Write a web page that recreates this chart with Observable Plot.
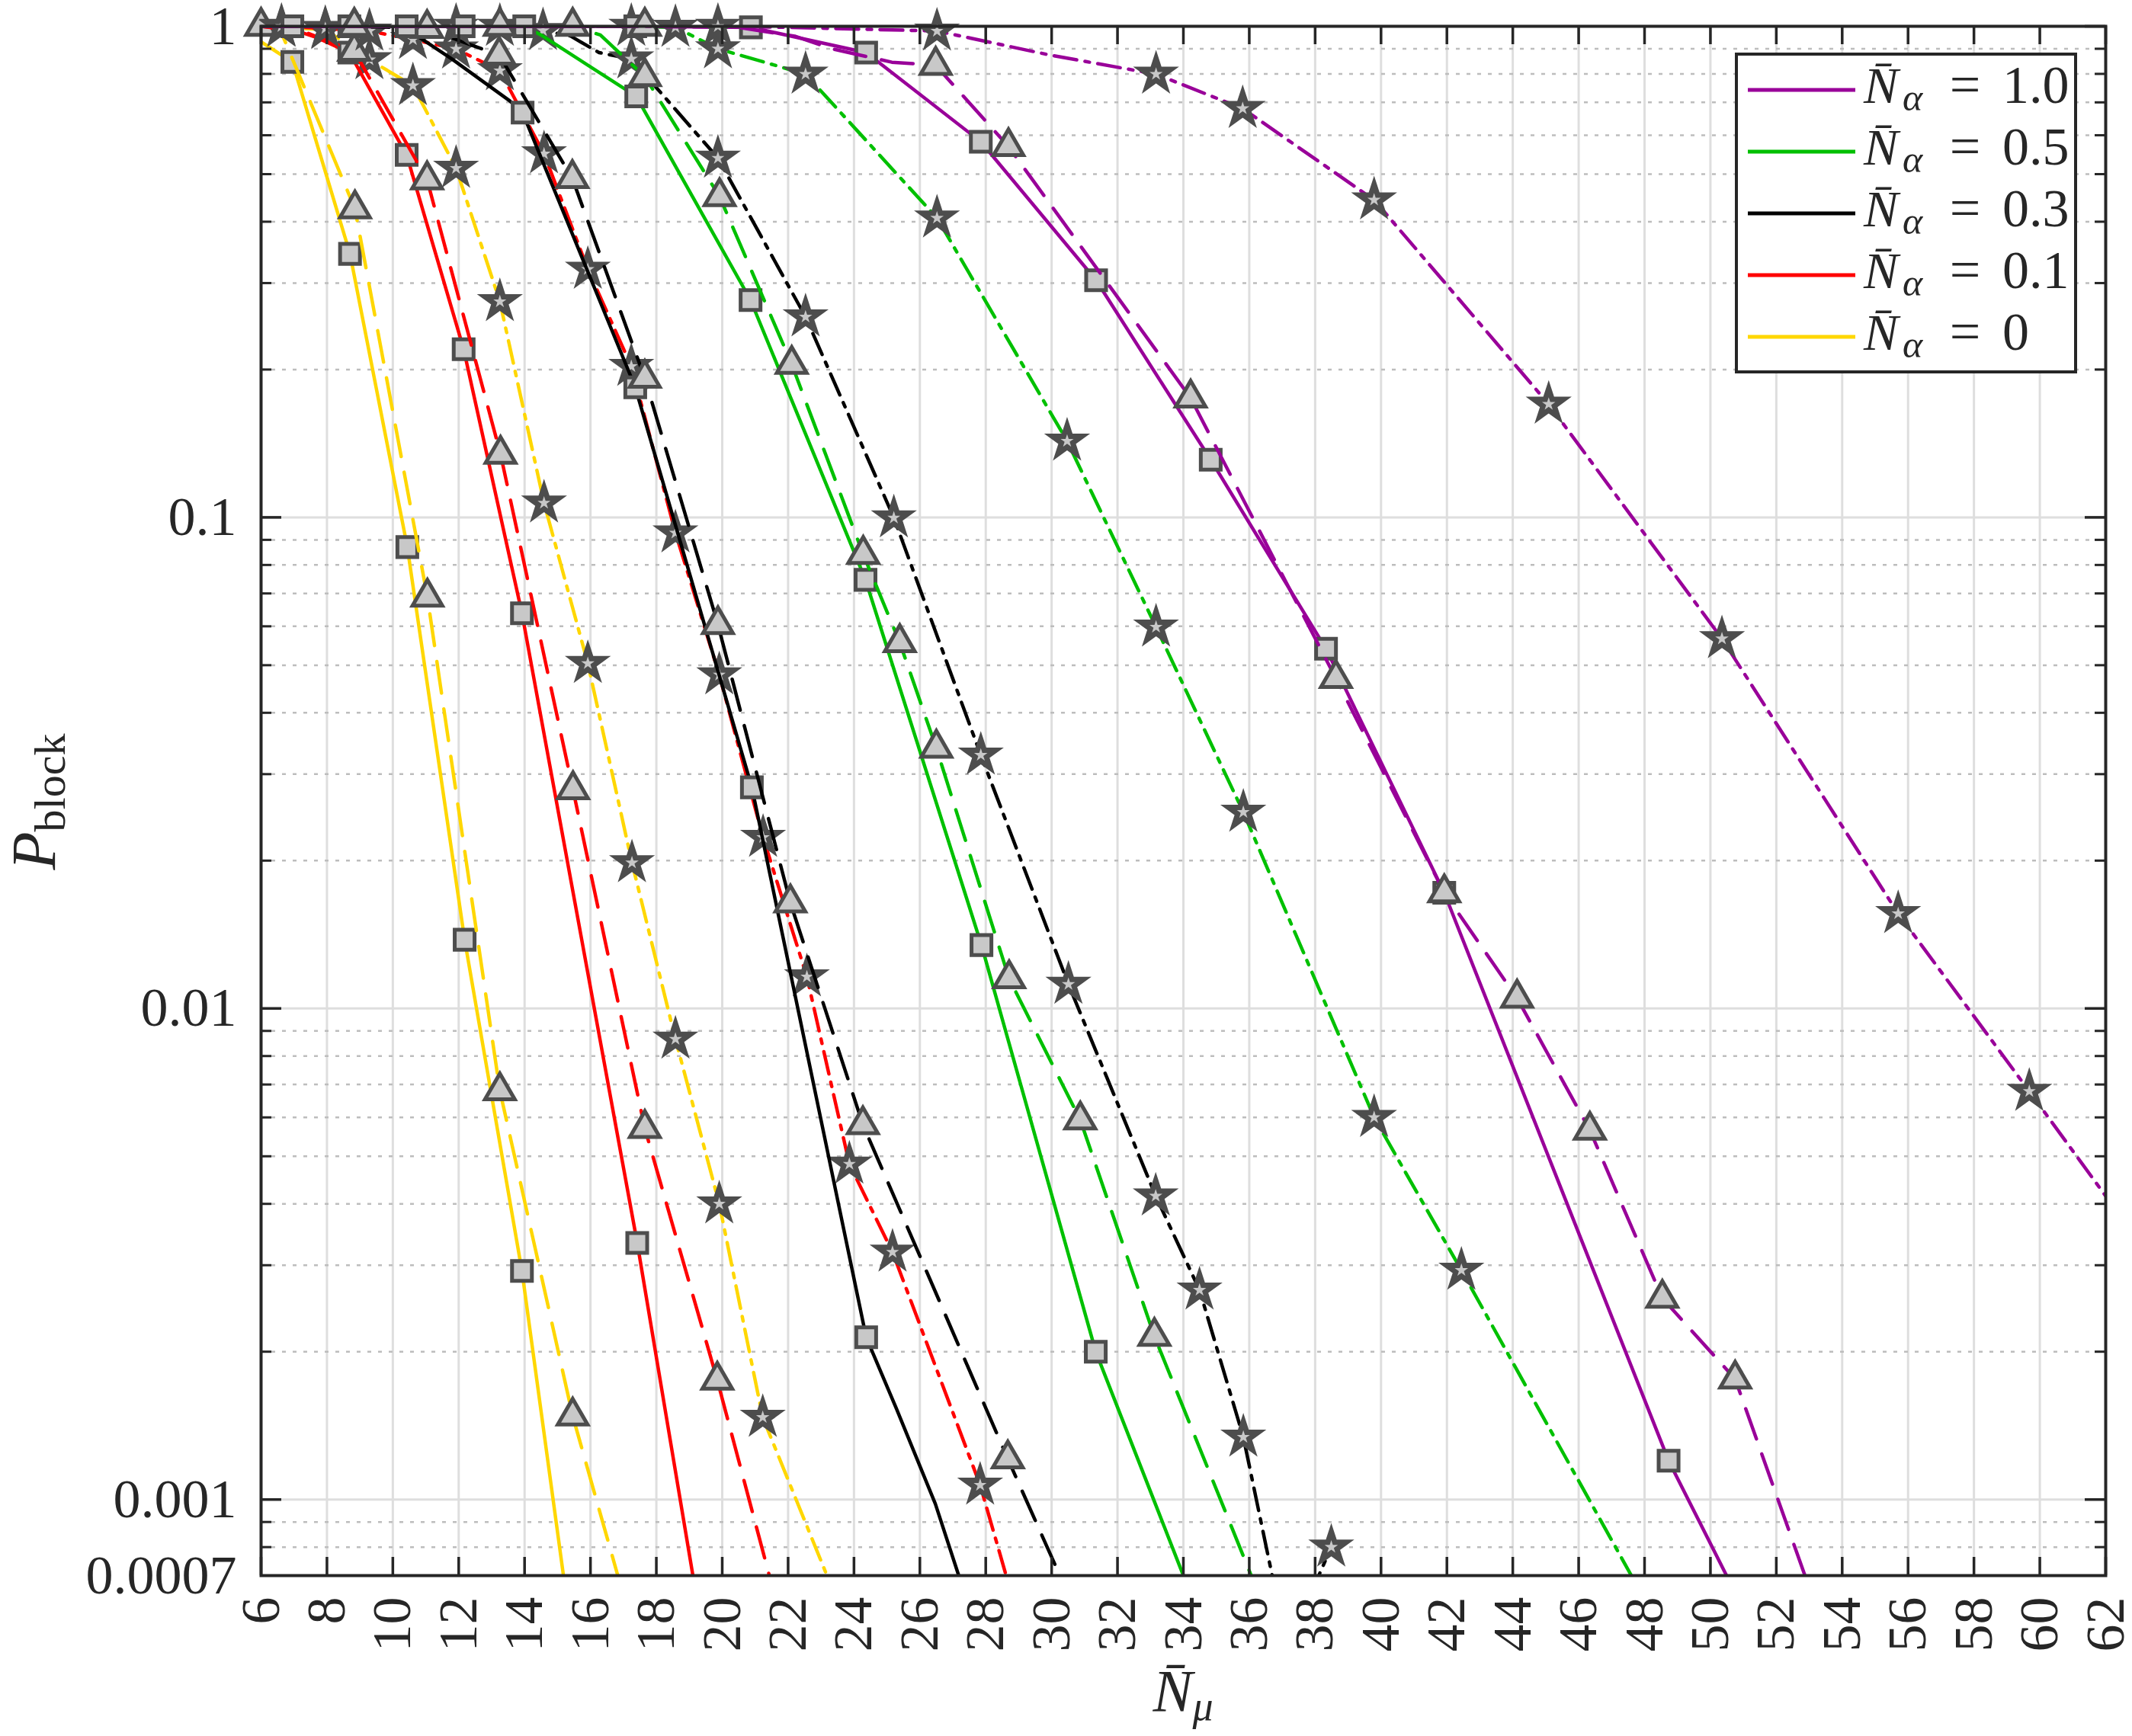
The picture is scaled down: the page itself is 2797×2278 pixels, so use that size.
<!DOCTYPE html>
<html><head><meta charset="utf-8">
<script src="https://cdn.jsdelivr.net/npm/d3@7"></script>
<script src="https://cdn.jsdelivr.net/npm/@observablehq/plot@0.6"></script>
<style>body{margin:0;background:#fff}</style>
</head><body><div id="chart"></div>
<script>
// ---------- data: [N_mu, P_block, marker shown (1) or not (0)] ----------
// N_alpha = 0 (yellow)
const a0Solid   = [[6,0.93,0],[6.95,0.846,1],[8.70,0.344,1],[10.44,0.087,1],[12.18,0.0138,1],[13.92,0.00292,1],[15.18,0.0007,0]];
const a0Dash    = [[6,1,1],[6.62,0.97,0],[8.85,0.425,1],[11.05,0.0688,1],[13.25,0.0068,1],[15.46,0.00148,1],[16.83,0.0007,0]];
const a0DashDot = [[6,1,0],[6.62,0.995,1],[7.95,0.985,1],[9.29,0.855,1],[10.61,0.757,1],[11.92,0.514,1],[13.25,0.275,1],[14.59,0.107,1],[15.92,0.0504,1],[17.26,0.0198,1],[18.58,0.00866,1],[19.91,0.004,1],[21.23,0.00147,1],[23.18,0.0007,0]];
// N_alpha = 0.1 (red)
const a01Solid   = [[6,1,0],[6.95,0.985,0],[7.7,0.948,0],[8.68,0.884,1],[10.42,0.547,1],[12.15,0.22,1],[13.92,0.0638,1],[17.42,0.00333,1],[19.11,0.0007,0]];
const a01Dash    = [[6,1,0],[7.3,0.975,0],[8.83,0.89,1],[11.04,0.487,1],[13.27,0.1345,1],[15.47,0.0279,1],[17.65,0.0057,1],[19.85,0.00175,1],[21.43,0.0007,0]];
const a01DashDot = [[6,1,0],[6.62,1,1],[7.95,0.99,1],[9.29,0.978,1],[10.61,0.94,1],[11.92,0.899,1],[13.25,0.812,1],[14.59,0.55,1],[15.92,0.32,1],[17.24,0.203,1],[18.58,0.093,1],[19.91,0.0478,1],[21.24,0.0223,1],[22.57,0.0116,1],[23.86,0.00482,1],[25.17,0.00319,1],[27.83,0.00107,1],[28.62,0.0007,0]];
// N_alpha = 0.3 (black)
const a03Solid   = [[6,1,0],[6.95,1,1],[8.68,1,1],[10.3,1,0],[10.8,0.95,0],[11.8,0.857,0],[13.55,0.705,0],[13.94,0.667,1],[17.36,0.184,1],[20.9,0.0282,1],[24.37,0.00214,1],[25.29,0.00153,0],[26.47,0.00098,0],[27.18,0.0007,0]];
const a03Dash    = [[6,1,0],[8.83,1,1],[11.04,0.99,1],[12.4,0.915,0],[13.23,0.874,1],[15.45,0.49,1],[17.65,0.192,1],[19.87,0.0605,1],[22.07,0.0164,1],[24.27,0.0058,1],[28.67,0.00121,1],[30.25,0.0007,0]];
const a03DashDot = [[6,1,0],[11.92,1,1],[13.25,1,1],[14.56,0.98,1],[15.4,0.955,0],[16.26,0.884,0],[17.24,0.858,1],[19.87,0.539,1],[22.53,0.256,1],[25.21,0.0998,1],[27.85,0.0328,1],[30.51,0.0112,1],[33.16,0.00415,1],[34.49,0.00267,1],[35.82,0.00134,1],[37.15,0.0005,0],[38.49,0.0008,1]];
// N_alpha = 0.5 (green)
const a05Solid   = [[6,1,0],[10.42,1,1],[12.15,1,1],[13.99,1,1],[14.5,0.96,0],[17.39,0.72,1],[20.86,0.277,1],[24.35,0.0746,1],[27.87,0.01346,1],[31.34,0.002,1],[34.0,0.0007,0]];
const a05Dash    = [[6,1,0],[13.25,1,1],[15.46,1,1],[16.3,0.96,0],[17.65,0.79,1],[19.92,0.45,1],[22.11,0.205,1],[24.28,0.0841,1],[25.39,0.0556,1],[26.5,0.0339,1],[28.71,0.0115,1],[30.87,0.00593,1],[33.12,0.00215,1],[36.06,0.0007,0]];
const a05DashDot = [[6,1,0],[15.92,1,0],[17.24,1,1],[18.58,0.995,1],[19.87,0.9,1],[21.47,0.838,0],[22.53,0.799,1],[26.52,0.407,1],[30.47,0.143,1],[33.17,0.0598,1],[35.82,0.0251,1],[39.79,0.006,1],[42.44,0.00293,1],[47.6,0.0007,0]];
// N_alpha = 1.0 (purple)
const a1Solid   = [[6,1,0],[17.36,1,1],[20.87,0.995,1],[24.37,0.884,1],[27.85,0.582,1],[31.35,0.304,1],[34.83,0.131,1],[38.33,0.054,1],[41.92,0.0172,1],[48.73,0.0012,1],[50.49,0.0007,0]];
const a1Dash    = [[6,1,0],[17.65,1,1],[20.5,0.995,0],[22.2,0.955,0],[23.33,0.9,0],[25.15,0.845,0],[26.48,0.833,1],[28.69,0.569,1],[34.22,0.175,1],[38.63,0.047,1],[41.92,0.0172,1],[44.13,0.0105,1],[46.34,0.00565,1],[48.54,0.00257,1],[50.75,0.00176,1],[52.87,0.0007,0]];
const a1DashDot = [[6,1,0],[19.87,1,1],[22.0,0.995,0],[26.52,0.978,1],[29.98,0.873,0],[33.17,0.799,1],[35.8,0.68,1],[39.79,0.443,1],[45.09,0.17,1],[50.35,0.0566,1],[55.7,0.0156,1],[59.68,0.00678,1],[62,0.00415,0]];

// legend labels (N_alpha values) and axis ticks
const legendValues = ["1.0", "0.5", "0.3", "0.1", "0"];
const xTicks  = [6,8,10,12,14,16,18,20,22,24,26,28,30,32,34,36,38,40,42,44,46,48,50,52,54,56,58,60,62];
const yLabels = [1, 0.1, 0.01, 0.001, 0.0007];
const yMajor  = [1, 0.1, 0.01, 0.001];
const yMinor  = [0.0008,0.0009,0.002,0.003,0.004,0.005,0.006,0.007,0.008,0.009,
                 0.02,0.03,0.04,0.05,0.06,0.07,0.08,0.09,0.2,0.3,0.4,0.5,0.6,0.7,0.8,0.9];

// ---------- styles ----------
const FONT = "'Liberation Serif', 'Times New Roman', serif";
const INK = "#262626";
const colorOf = {"1.0": "#990099", "0.5": "#00c000", "0.3": "#000000", "0.1": "#ff0000", "0": "#ffd700"};
const DASH = {solid: null, dash: "42,21", dashdot: "30,11,6,11"};
const SHAPE = {solid: "square", dash: "triangle", dashdot: "star"};
const R = {solid: 14.7, dash: 14.5, dashdot: 12.2};
const SW = {solid: 5, dash: 5, dashdot: 7};

const series = [
  ["0", "solid", a0Solid], ["0", "dash", a0Dash], ["0", "dashdot", a0DashDot],
  ["0.1", "solid", a01Solid], ["0.1", "dash", a01Dash], ["0.1", "dashdot", a01DashDot],
  ["0.3", "solid", a03Solid], ["0.3", "dash", a03Dash], ["0.3", "dashdot", a03DashDot],
  ["0.5", "solid", a05Solid], ["0.5", "dash", a05Dash], ["0.5", "dashdot", a05DashDot],
  ["1.0", "solid", a1Solid], ["1.0", "dash", a1Dash], ["1.0", "dashdot", a1DashDot]
];

const W = 2797, H = 2278, mL = 342, mR = 35, mT = 34, mB = 211;
const plotW = W - mL - mR, plotH = H - mT - mB;

const seriesMarks = series.flatMap(([a, st, data]) => [
  Plot.line(data, {x: d => d[0], y: d => d[1], stroke: colorOf[a], strokeWidth: 4.5,
    strokeDasharray: DASH[st], strokeLinejoin: "round", clip: true}),
  Plot.dot(data.filter(d => d[2] === 1), {x: d => d[0], y: d => d[1], symbol: SHAPE[st], r: R[st],
    fill: "#c8c8c8", stroke: "#4d4d4d", strokeWidth: SW[st]})
]);

const chart = Plot.plot({
  width: W, height: H,
  marginLeft: mL, marginRight: mR, marginTop: mT, marginBottom: mB,
  style: {fontFamily: FONT, fontSize: "72px", background: "#ffffff", color: INK},
  x: {domain: [6, 62], axis: null},
  y: {type: "log", domain: [0.0007, 1], axis: null},
  marks: [
    Plot.ruleX(xTicks, {stroke: "#dedede", strokeWidth: 3}),
    Plot.ruleY(yMinor, {stroke: "#bdbdbd", strokeWidth: 2.5, strokeDasharray: "5,9"}),
    Plot.ruleY(yMajor, {stroke: "#dedede", strokeWidth: 3}),
    ...seriesMarks,
    Plot.frame({stroke: INK, strokeWidth: 4}),
    // inward tick marks
    Plot.ruleX(xTicks, {stroke: INK, strokeWidth: 3.5, insetTop: plotH - 24}),
    Plot.ruleX(xTicks, {stroke: INK, strokeWidth: 3.5, insetBottom: plotH - 24}),
    Plot.ruleY(yMajor, {stroke: INK, strokeWidth: 3.5, insetRight: plotW - 27}),
    Plot.ruleY(yMajor, {stroke: INK, strokeWidth: 3.5, insetLeft: plotW - 27}),
    Plot.ruleY(yMinor, {stroke: INK, strokeWidth: 3, insetRight: plotW - 14}),
    Plot.ruleY(yMinor, {stroke: INK, strokeWidth: 3, insetLeft: plotW - 14}),
    // x tick labels, rotated
    Plot.text(xTicks, {x: d => d, text: d => String(d), frameAnchor: "bottom", dy: 28,
      rotate: -90, textAnchor: "end", lineAnchor: "middle", fontSize: 72, fill: INK}),
    // y tick labels (text mark so the 0.0007 edge label is kept)
    Plot.text(yLabels, {y: d => d, text: d => String(d), frameAnchor: "left", dx: -32,
      textAnchor: "end", lineAnchor: "middle", fontSize: 72, fill: INK})
  ]
});
document.getElementById("chart").appendChild(chart);

// ---------- labels & legend ----------
const svg = d3.select(chart);
const g = svg.append("g").attr("font-family", FONT).attr("fill", INK).attr("text-anchor", "start");

const yl = g.append("text").attr("transform", "translate(72,1052) rotate(-90)")
  .attr("text-anchor", "middle").attr("font-size", 82);
yl.append("tspan").attr("font-style", "italic").text("P");
yl.append("tspan").attr("font-size", 58).attr("dy", 13).text("block");

const xl = g.append("text").attr("x", 1552).attr("y", 2245).attr("text-anchor", "middle").attr("font-size", 78);
xl.append("tspan").attr("font-style", "italic").text("N\u0304");
xl.append("tspan").attr("font-style", "italic").attr("font-size", 54).attr("dy", 12).text("\u03bc");

const lg = g.append("g");
lg.append("rect").attr("x", 2278).attr("y", 71).attr("width", 445).attr("height", 417)
  .attr("fill", "#ffffff").attr("stroke", INK).attr("stroke-width", 4);
legendValues.forEach((v, i) => {
  const y = 118 + i * 81;
  lg.append("line").attr("x1", 2293).attr("x2", 2434).attr("y1", y).attr("y2", y)
    .attr("stroke", colorOf[v]).attr("stroke-width", 5);
  lg.append("text").attr("x", 2445).attr("y", y + 17).attr("font-size", 68).attr("font-style", "italic").text("N\u0304");
  lg.append("text").attr("x", 2496).attr("y", y + 27).attr("font-size", 50).attr("font-style", "italic").text("\u03b1");
  lg.append("text").attr("x", 2578).attr("y", y + 17).attr("font-size", 72).attr("text-anchor", "middle").text("=");
  lg.append("text").attr("x", 2627).attr("y", y + 17).attr("font-size", 70).text(v);
});
</script>
</body></html>
